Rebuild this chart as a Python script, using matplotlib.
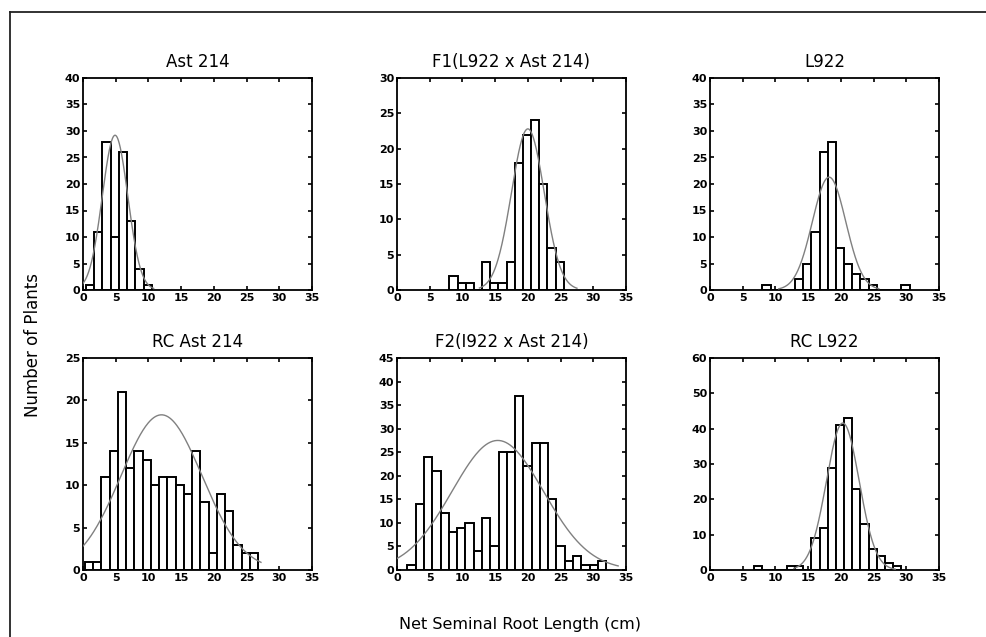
import numpy as np
import matplotlib
matplotlib.use("Agg")
import matplotlib.pyplot as plt
from matplotlib.lines import Line2D

plt.rcParams['font.family'] = ['DejaVu Sans']

# panel titles, row by row
titles = ["Ast 214", "F1(L922 x Ast 214)", "L922",
          "RC Ast 214", "F2(I922 x Ast 214)", "RC L922"]
y_max = [40, 30, 40, 25, 45, 60]
y_step = [5, 5, 5, 5, 5, 10]

# histogram bins: left edge of first bin, bin width, counts
bin_start = [0.4, 8.0, 8.0, 0.3, 1.6, 6.75]
bin_width = [1.27, 1.25, 1.25, 1.26, 1.265, 1.25]

ast214 = [1, 11, 28, 10, 26, 13, 4, 1]
f1 = [2, 1, 1, 0, 4, 1, 1, 4, 18, 22, 24, 15, 6, 4]
l922 = [1, 0, 0, 0, 2, 5, 11, 26, 28, 8, 5, 3, 2, 1, 0, 0, 0, 1]
rc_ast214 = [1, 1, 11, 14, 21, 12, 14, 13, 10, 11, 11, 10, 9, 14, 8, 2, 9, 7, 3, 2, 2]
f2 = [1, 14, 24, 21, 12, 8, 9, 10, 4, 11, 5, 25, 25, 37, 22, 27, 27, 15, 5, 2, 3, 1, 1, 2]
rc_l922 = [1, 0, 0, 0, 1, 1, 0, 9, 12, 29, 41, 43, 23, 13, 6, 4, 2, 1]
counts = [ast214, f1, l922, rc_ast214, f2, rc_l922]

# fitted normal curves: mean, sd, peak height, drawn range
fit_mean = [4.9, 20.0, 18.2, 12.0, 15.4, 20.3]
fit_sd = [1.95, 2.5, 2.55, 6.2, 7.0, 2.5]
fit_peak = [29.2, 22.8, 21.3, 18.3, 27.5, 41.6]
fit_lo = [0.0, 12.6, 10.5, 0.0, 0.0, 12.8]
fit_hi = [10.8, 27.5, 25.8, 27.2, 33.8, 28.3]

W, H = 987, 637
fig = plt.figure(figsize=(W / 100, H / 100), dpi=100)

# axes boxes in pixels (left, top, width, height)
lefts = [83, 397, 710]
tops = [78, 358]
ax_w, ax_h = 229, 212

for i in range(6):
    r, c = divmod(i, 3)
    ax = fig.add_axes([lefts[c] / W, 1 - (tops[r] + ax_h) / H, ax_w / W, ax_h / H])

    n = len(counts[i])
    edges = bin_start[i] + bin_width[i] * np.arange(n)
    ax.bar(edges, counts[i], width=bin_width[i], align='edge',
           color='white', edgecolor='black', linewidth=1.4, zorder=2)

    xs = np.linspace(fit_lo[i], fit_hi[i], 200)
    ys = fit_peak[i] * np.exp(-(xs - fit_mean[i]) ** 2 / (2 * fit_sd[i] ** 2))
    ax.plot(xs, ys, color='#808080', linewidth=1.0, zorder=3)

    ax.set_xlim(0, 35)
    ax.set_ylim(0, y_max[i])
    ax.set_xticks(np.arange(0, 36, 5))
    ax.set_yticks(np.arange(0, y_max[i] + 1, y_step[i]))
    ax.tick_params(direction='in', length=3, width=1.2, top=True, right=True,
                   labelsize=8, pad=2)
    for lab in ax.get_xticklabels() + ax.get_yticklabels():
        lab.set_fontweight('bold')
    for s in ax.spines.values():
        s.set_linewidth(1.3)
    ax.set_title(titles[i], fontsize=12, pad=8)

fig.text(33 / W, 1 - 345 / H, "Number of Plants", rotation=90,
         ha='center', va='center', fontsize=12)
fig.text(520 / W, 1 - 624 / H, "Net Seminal Root Length (cm)",
         ha='center', va='center', fontsize=11.5)

# outer frame of the scanned figure (left and top edges)
fig.add_artist(Line2D([10 / W, 10 / W], [0, 1 - 12 / H], color='#222222', linewidth=1.3))
fig.add_artist(Line2D([10 / W, 1], [1 - 12 / H, 1 - 12 / H], color='#222222', linewidth=1.3))

fig.savefig("out.png", dpi=100, facecolor='white')
